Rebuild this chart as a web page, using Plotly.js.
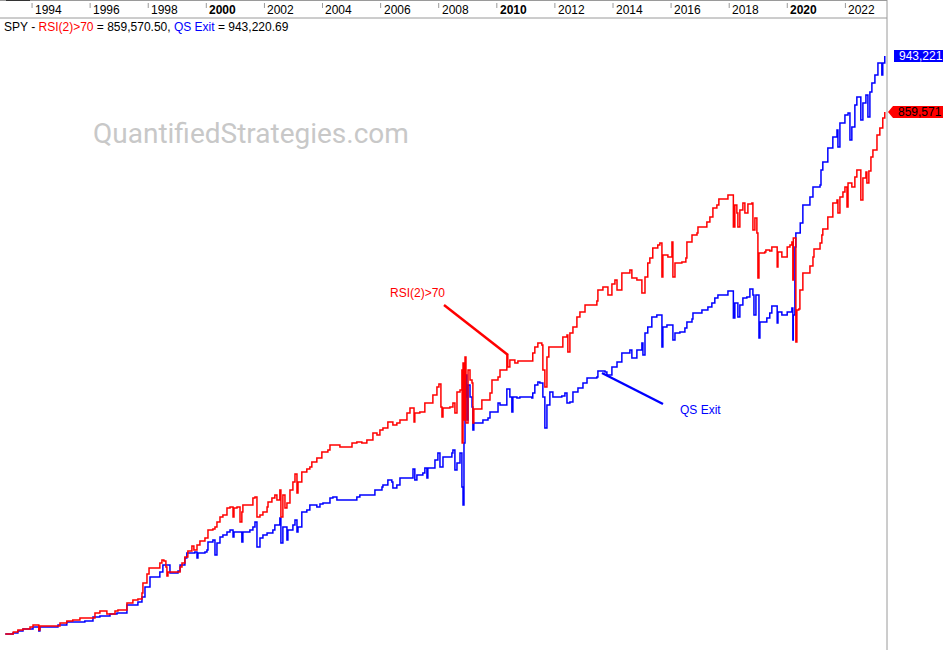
<!DOCTYPE html>
<html><head><meta charset="utf-8">
<script src="https://cdn.plot.ly/plotly-3.0.1.min.js"></script>
<style>html,body{margin:0;padding:0;background:#fff;overflow:hidden}#chart{width:943px;height:650px}</style>
</head><body><div id="chart"></div>
<script>
const symbol = 'SPY';
const redName = 'RSI(2)>70';
const blueName = 'QS Exit';
const yearLabels = ['1994','1996','1998','2000','2002','2004','2006','2008','2010','2012','2014','2016','2018','2020','2022'];
const boldYears = ['2000','2010','2020'];

const redDates = [
'1993-01-29','1993-05-05','1993-05-10','1993-07-07','1993-09-09','1993-12-06',
'1994-01-13','1994-03-27','1994-04-10','1994-09-21','1994-12-18',
'1995-03-14','1995-05-28','1995-08-26','1995-12-29',
'1996-03-02','1996-05-03','1996-07-05','1996-07-30','1996-11-09','1996-12-16',
'1997-04-08','1997-06-22','1997-08-24','1997-10-14','1997-10-26','1997-12-16',
'1998-01-11','1998-05-02','1998-05-27','1998-06-22','1998-07-17','1998-08-11','1998-08-24','1998-09-06','1998-12-28',
'1999-02-05','1999-03-01','1999-04-07','1999-05-14','1999-07-04','1999-07-29','1999-09-06','1999-10-13','1999-12-15',
'2000-01-22','2000-03-24','2000-04-19','2000-05-14','2000-06-21','2000-07-28','2000-09-17','2000-10-25','2000-12-02','2000-12-14',
'2001-01-21','2001-02-28','2001-03-23','2001-04-05','2001-06-07','2001-08-09','2001-09-04','2001-09-29','2001-11-06','2001-12-13',
'2002-02-03','2002-02-15','2002-04-05','2002-05-12','2002-06-07','2002-07-14','2002-07-27','2002-08-21','2002-09-16','2002-10-11','2002-11-18','2002-12-25',
'2003-01-20','2003-02-14','2003-02-27','2003-04-16','2003-06-18','2003-07-26','2003-08-20','2003-10-22','2003-12-24',
'2004-03-09','2004-04-04','2004-06-05','2004-08-07','2004-11-04',
'2005-01-06','2005-03-08','2005-05-10','2005-07-12','2005-09-26','2005-11-16','2005-12-23',
'2006-01-30','2006-04-02','2006-06-04','2006-07-24','2006-09-01','2006-11-28',
'2007-01-05','2007-02-25','2007-03-07','2007-05-09','2007-07-11','2007-08-18','2007-10-20','2007-12-10',
'2008-01-04','2008-01-29','2008-02-11','2008-02-24','2008-05-21','2008-06-28','2008-07-23','2008-08-18','2008-09-25','2008-10-19','2008-10-22','2008-11-02','2008-11-14','2008-11-27','2008-12-09',
'2009-01-04','2009-01-29','2009-02-23','2009-03-06','2009-03-18','2009-06-27','2009-10-07','2009-11-01',
'2010-01-16','2010-02-10','2010-05-07','2010-05-19','2010-06-14','2010-08-16','2010-09-23',
'2011-03-17','2011-03-29','2011-04-24','2011-06-01','2011-07-21','2011-08-03','2011-08-28','2011-09-23','2011-10-17',
'2012-03-28','2012-04-10','2012-06-01','2012-06-12','2012-07-08','2012-08-15','2012-10-04','2012-11-11',
'2013-01-14','2013-06-12','2013-06-25','2013-08-27','2013-10-16','2013-10-29','2013-12-18',
'2014-01-25','2014-02-20','2014-04-22','2014-08-01','2014-08-26','2014-10-28','2014-12-05','2014-12-30',
'2015-02-07','2015-03-14','2015-04-09','2015-05-16','2015-07-18','2015-08-13','2015-09-08','2015-09-20','2015-11-22',
'2016-01-12','2016-01-24','2016-02-19','2016-05-16','2016-07-05','2016-07-18','2016-09-20','2016-11-22','2016-12-04',
'2017-03-26','2017-05-03','2017-06-10','2017-07-30','2017-08-24','2017-12-03','2017-12-16',
'2018-02-18','2018-02-22','2018-03-13','2018-04-07','2018-04-20','2018-05-15','2018-06-22','2018-07-17','2018-08-24','2018-10-13','2018-10-26','2018-11-20','2018-12-15','2018-12-28',
'2019-01-10','2019-03-24','2019-04-07','2019-05-26','2019-06-21','2019-08-23','2019-08-27','2019-09-06','2019-10-25','2019-12-27','2019-12-31',
'2020-02-04','2020-02-28','2020-03-11','2020-03-17','2020-04-18','2020-05-01','2020-05-25','2020-06-08','2020-07-15','2020-09-17','2020-10-12','2020-11-19','2020-12-02',
'2021-02-16','2021-03-11','2021-03-23','2021-05-25','2021-07-27','2021-09-17','2021-09-29','2021-10-24','2021-12-01','2021-12-26',
'2022-01-21','2022-02-03','2022-03-23','2022-04-30','2022-05-25','2022-07-02','2022-07-14','2022-08-09','2022-09-16','2022-09-28','2022-10-23','2022-11-18','2022-12-13',
'2023-02-02','2023-03-10','2023-04-16','2023-05-11'
];
const redValues = [
79900,79900,82900,85900,87400,90400,
93400,85900,91900,91900,96300,
99300,100800,103800,103800,
111300,114300,114300,109800,114300,115800,
126200,130700,132200,141200,156100,169500,
178500,178500,186000,190400,189000,180000,166600,172500,172500,
180000,186000,194900,203900,211400,205400,212900,218800,223300,
235300,236800,239700,247200,254700,257700,268100,269600,254700,268100,
269600,247200,262100,272600,272600,283100,284600,254700,257700,262100,
269600,277100,283100,287500,280100,295000,254700,287500,268100,275600,295000,307000,
318900,290500,307000,321900,326400,329400,336800,342800,351800,
354800,362200,362200,359200,359200,
365200,366700,365200,369700,380100,377200,384600,
387600,396600,392100,395100,399600,410000,
417500,396600,410000,411500,424900,424900,436900,448900,
453300,419000,404000,417500,419000,424900,410000,441400,444400,474300,365200,484700,399600,493700,395100,
474300,459300,454800,395100,416000,429400,439900,459300,
463800,474300,496700,478700,489200,484700,487700,
487700,499700,508600,514600,511600,474300,448900,493700,508600,
508600,523600,526600,501200,529500,538500,553500,560900,
571400,577400,593800,598300,598300,586300,602700,
608700,593800,619200,623700,611700,608700,608700,589300,
613200,634100,641600,656500,661000,664000,613200,646100,643100,
665500,613200,634100,635600,641600,665500,675900,678900,687900,
695400,702800,716300,720700,729700,729700,735700,
735700,687900,720700,708800,687900,713300,723700,708800,722200,723700,683400,701300,678900,611700,
649100,650600,653500,652100,658000,658000,628100,650600,643100,643100,658000,
661000,665500,608700,671500,516100,563900,565400,593800,619200,619200,629600,643100,655000,
664000,675900,684900,702800,723700,728200,708800,732700,740200,747700,
717800,753600,747700,762600,773000,773000,728200,761100,770000,753600,771500,792400,802900,
825300,835800,850700,859570.50
];

const blueDates = [
'1993-01-29','1993-05-05','1993-07-07','1993-09-09',
'1994-01-13','1994-03-27','1994-04-10','1994-10-16','1994-11-23',
'1995-03-14','1995-10-27',
'1996-02-06','1996-05-03','1996-09-07','1996-12-04',
'1997-04-08','1997-08-12','1997-08-24','1997-10-14','1997-11-21',
'1998-01-23','1998-05-02','1998-05-27','1998-07-04','1998-09-06','1998-10-01',
'1999-01-10','1999-02-05','1999-04-07','1999-05-01','1999-08-10','1999-09-06','1999-09-18','1999-12-15',
'2000-01-09','2000-01-22','2000-03-24','2000-04-19','2000-05-14','2000-06-21','2000-07-28','2000-09-17','2000-10-25','2000-12-02','2000-12-14',
'2001-03-23','2001-04-05','2001-07-02','2001-08-09','2001-09-04','2001-09-29','2001-11-06','2001-12-13',
'2002-02-03','2002-04-17','2002-05-12','2002-07-14','2002-07-27','2002-08-21','2002-10-11','2002-10-23','2002-12-25',
'2003-01-20','2003-02-14','2003-02-27','2003-04-16','2003-06-18','2003-07-26','2003-10-22','2003-11-30',
'2004-01-07','2004-04-04','2004-05-11','2004-06-30','2004-12-11',
'2005-03-08','2005-04-15','2005-08-19','2005-10-21',
'2006-01-18','2006-01-30','2006-04-02','2006-05-22','2006-06-04','2006-07-24','2006-09-01','2006-11-28',
'2007-02-12','2007-03-07','2007-04-02','2007-06-16','2007-07-11','2007-08-06','2007-08-18','2007-11-15','2007-12-22',
'2008-01-17','2008-02-24','2008-04-26','2008-06-15','2008-06-28','2008-07-23','2008-08-18','2008-09-25','2008-10-19','2008-11-02','2008-11-14','2008-11-27','2008-12-09','2008-12-21',
'2009-01-04','2009-01-29','2009-02-23','2009-03-06','2009-03-18','2009-07-10','2009-09-12','2009-10-07',
'2010-01-16','2010-02-10','2010-05-07','2010-06-14','2010-07-09','2010-07-22','2010-09-11','2010-10-18',
'2011-03-17','2011-03-29','2011-04-24','2011-06-01','2011-06-26','2011-08-03','2011-08-28','2011-09-23','2011-10-30','2011-12-07',
'2012-03-28','2012-05-06','2012-06-01','2012-07-08','2012-08-15','2012-10-17','2012-12-19',
'2013-02-08','2013-06-12','2013-06-25','2013-09-22','2013-10-16','2013-12-18',
'2014-02-20','2014-04-22','2014-08-01','2014-08-26','2014-10-28','2014-12-30',
'2015-01-12','2015-02-07','2015-03-14','2015-05-04','2015-07-06','2015-08-13','2015-09-08','2015-09-20','2015-11-10',
'2016-01-12','2016-01-24','2016-02-19','2016-04-21','2016-06-23','2016-07-18','2016-09-20','2016-10-02','2016-11-22',
'2017-01-23','2017-04-08','2017-05-28','2017-07-04','2017-08-12','2017-12-16',
'2018-02-18','2018-02-22','2018-03-13','2018-04-20','2018-05-15','2018-06-22','2018-08-11','2018-09-18','2018-10-26','2018-11-08','2018-12-03','2018-12-24',
'2019-01-10','2019-01-22','2019-03-24','2019-04-19','2019-05-26','2019-06-21','2019-08-23','2019-08-27','2019-09-06','2019-10-25','2019-12-27','2019-12-31',
'2020-02-28','2020-03-11','2020-03-17','2020-04-06','2020-04-18','2020-06-08','2020-06-12','2020-07-15','2020-09-17','2020-10-12','2020-11-19',
'2021-02-16','2021-02-28','2021-03-23','2021-05-25','2021-07-27','2021-09-17','2021-09-29','2021-10-24','2021-12-26',
'2022-02-03','2022-02-27','2022-03-23','2022-04-30','2022-05-25','2022-07-02','2022-07-14','2022-08-09','2022-09-16','2022-10-11','2022-11-05','2022-11-30',
'2023-01-07','2023-02-14','2023-04-04','2023-04-16','2023-05-11'
];
const blueValues = [
79900,81400,84400,87400,
90400,84400,90400,90400,93400,
97800,99300,
105300,106800,109800,111300,
123200,123200,127700,135200,150100,
165100,165100,172500,183000,183000,171000,
174000,183000,193400,200900,202400,193400,200900,202400,
205400,217300,220300,197900,215800,224800,227800,232300,235300,224800,232300,
217300,232300,235300,239700,247200,209900,223300,227800,
230800,235300,242700,253200,215800,239700,220300,235300,242700,
250200,232300,239700,262100,265100,272600,269600,274100,
275600,283100,284600,280100,280100,
284600,287500,287500,295000,
299500,302500,309900,307000,298000,302500,312900,312900,
326400,309900,317400,320400,327900,312900,327900,339800,350300,
329400,344300,344300,350300,354800,324900,335300,350300,299500,272600,365200,433900,466800,399600,
451800,433900,419000,384600,395100,399600,402600,411500,
424900,422000,445900,433900,411500,433900,432400,433900,
432400,439900,451800,456300,454800,433900,387600,422000,441400,433900,
435400,439900,424900,426400,441400,447400,454800,
462300,463800,472800,471300,466800,478700,
486200,499700,504100,492200,504100,514600,
496700,529500,538500,553500,556400,556400,508600,538500,541500,
541500,519100,529500,531000,537000,546000,550500,559400,559400,
563900,568400,574400,581900,586300,592300,
592300,552000,574400,553500,571400,581900,583400,595300,586300,556400,586300,586300,
522100,546000,546000,552000,559400,569900,569900,544500,560900,556400,556400,560900,
566900,519100,556400,658000,678900,678900,693900,720700,720700,732700,747700,
750600,773000,785000,805900,822300,832800,807400,843300,855200,
858200,817800,837300,870100,882000,882000,847700,873100,885000,852200,889500,902900,
914900,932800,914900,932800,943220.69
];

const RED = '#ff0000', BLUE = '#0000ff';
const W = 943, H = 650, M = {l: 0, r: 56, t: 18, b: 0};
const plotW = W - M.l - M.r, plotH = H - M.t - M.b;
const px = p => (p - M.l) / plotW;          // pixel x -> paper
const py = p => (H - M.b - p) / plotH;      // pixel y (from top) -> paper
const esc = s => s.replace(/>/g, '&gt;');
const FONT = 'Liberation Sans, Arial, sans-serif';

const redLast = redValues[redValues.length - 1];
const blueLast = blueValues[blueValues.length - 1];
const fmt2 = v => v.toLocaleString('en-US', {minimumFractionDigits: 2, maximumFractionDigits: 2});
const fmt0 = v => Math.round(v).toLocaleString('en-US');

const traces = [
  {x: blueDates, y: blueValues, type: 'scatter', mode: 'lines', name: blueName,
   line: {color: BLUE, width: 1.5, shape: 'hv'}},
  {x: redDates, y: redValues, type: 'scatter', mode: 'lines', name: redName,
   line: {color: RED, width: 1.5, shape: 'hv'}}
];

const shapes = [];
const annotations = [];
const GRAY = '#9a9a9a';
shapes.push({type: 'line', xref: 'paper', yref: 'paper', x0: 0, x1: 1, y0: py(0.5), y1: py(0.5), line: {color: GRAY, width: 1}});
shapes.push({type: 'line', xref: 'paper', yref: 'paper', x0: 0, x1: 1, y0: py(18), y1: py(18), line: {color: GRAY, width: 1}});
shapes.push({type: 'line', xref: 'paper', yref: 'paper', x0: px(6), x1: px(30), y0: py(0.5), y1: py(0.5), line: {color: '#333', width: 1}});
shapes.push({type: 'line', xref: 'paper', yref: 'paper', x0: 1, x1: 1, y0: py(650), y1: py(0), line: {color: GRAY, width: 1}});

yearLabels.forEach(yr => {
  const d = yr + '-01-01';
  shapes.push({type: 'line', xref: 'x', yref: 'paper', x0: d, x1: d, y0: py(3), y1: py(8), line: {color: GRAY, width: 1}});
  const bold = boldYears.includes(yr);
  annotations.push({xref: 'x', yref: 'paper', x: d, y: py(10), xanchor: 'left', yanchor: 'middle', xshift: 1,
    text: bold ? '<b>' + yr + '</b>' : yr, showarrow: false, font: {family: FONT, size: 12, color: '#000'}});
});

annotations.push({xref: 'paper', yref: 'paper', x: px(2), y: py(27), xanchor: 'left', yanchor: 'middle', showarrow: false,
  text: symbol + ' - <span style="color:' + RED + '">' + esc(redName) + '</span> = ' + fmt2(redLast) +
        ', <span style="color:' + BLUE + '">' + esc(blueName) + '</span> = ' + fmt2(blueLast),
  font: {family: FONT, size: 12, color: '#000'}});

annotations.push({xref: 'paper', yref: 'paper', x: px(91), y: py(133), xanchor: 'left', yanchor: 'middle', showarrow: false,
  text: 'QuantifiedStrategies.com', font: {family: 'Roboto, sans-serif', size: 28, color: '#c8c8c8'}});

shapes.push({type: 'rect', xref: 'paper', xsizemode: 'pixel', xanchor: 1, x0: 7, x1: 60,
  yref: 'y', ysizemode: 'pixel', yanchor: blueLast, y0: -6, y1: 6, fillcolor: BLUE, line: {width: 0}});
annotations.push({xref: 'paper', yref: 'y', x: 1, y: blueLast, xanchor: 'left', yanchor: 'middle', xshift: 10, showarrow: false,
  text: fmt0(blueLast), font: {family: FONT, size: 12, color: '#fff'}});
shapes.push({type: 'path', xref: 'paper', xsizemode: 'pixel', xanchor: 1, yref: 'y', ysizemode: 'pixel', yanchor: redLast,
  path: 'M 1 0 L 6 6 L 60 6 L 60 -6 L 6 -6 Z', fillcolor: RED, line: {width: 0}});
annotations.push({xref: 'paper', yref: 'y', x: 1, y: redLast, xanchor: 'left', yanchor: 'middle', xshift: 9, showarrow: false,
  text: fmt0(redLast), font: {family: FONT, size: 12, color: '#000'}});

annotations.push({xref: 'paper', yref: 'paper', x: px(388), y: py(293), xanchor: 'left', yanchor: 'middle', showarrow: false,
  text: esc(redName), font: {family: FONT, size: 12, color: RED}});
shapes.push({type: 'line', xref: 'paper', yref: 'paper', x0: px(444), y0: py(305), x1: px(508), y1: py(355), line: {color: RED, width: 2.5}});
annotations.push({xref: 'paper', yref: 'paper', x: px(678), y: py(410), xanchor: 'left', yanchor: 'middle', showarrow: false,
  text: esc(blueName), font: {family: FONT, size: 12, color: BLUE}});
shapes.push({type: 'line', xref: 'paper', yref: 'paper', x0: px(602), y0: py(373), x1: px(663), y1: py(404), line: {color: BLUE, width: 2.5}});

const layout = {
  width: W, height: H, margin: M,
  paper_bgcolor: '#fff', plot_bgcolor: '#fff',
  showlegend: false, hovermode: false,
  xaxis: {type: 'date', range: ['1992-11-24', '2023-06-08'], showgrid: false, zeroline: false,
          showticklabels: false, ticks: '', showline: false, fixedrange: true},
  yaxis: {range: [56000, 1000000], showgrid: false, zeroline: false, showticklabels: false,
          ticks: '', showline: false, fixedrange: true},
  shapes: shapes, annotations: annotations
};
Plotly.newPlot('chart', traces, layout, {staticPlot: true, displayModeBar: false});
</script>
</body></html>
